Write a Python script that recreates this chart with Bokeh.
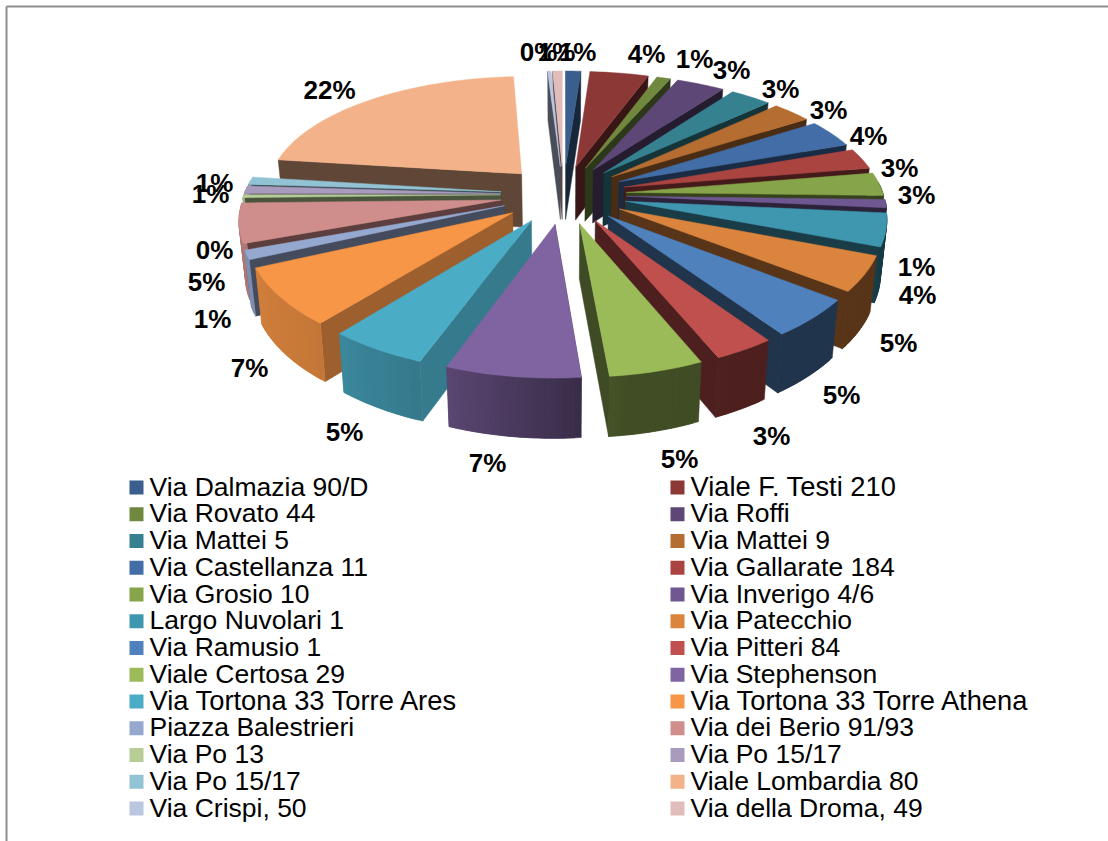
import numpy as np
from bokeh.plotting import figure
from bokeh.embed import file_html
from bokeh.resources import INLINE
from bokeh.core.properties import value

names = ["Via Dalmazia 90/D","Viale F. Testi 210","Via Rovato 44","Via Roffi","Via Mattei 5","Via Mattei 9",
         "Via Castellanza 11","Via Gallarate 184","Via Grosio 10","Via Inverigo 4/6","Largo Nuvolari 1","Via Patecchio",
         "Via Ramusio 1","Via Pitteri 84","Viale Certosa 29","Via Stephenson","Via Tortona 33 Torre Ares","Via Tortona 33 Torre Athena",
         "Piazza Balestrieri","Via dei Berio 91/93","Via Po 13","Via Po 15/17","Via Po 15/17","Viale Lombardia 80",
         "Via Crispi, 50","Via della Droma, 49"]
shares = [1.1,4.2,1.0,3.49,3.0,2.9,3.8,2.8,3.1,1.1,4.3,4.5,4.85,3.25,5.1,7.1,5.2,7.35,1.2,5.2,0.4,1.0,1.0,22.0,0.25,0.7]
labels = ["1%","4%","1%","3%","3%","3%","4%","3%","3%","1%","4%","5%","5%","3%","5%","7%","5%","7%","1%","5%","0%","1%","1%","22%","0%","1%"]
colors = ["#3A5F8E","#8C3836","#71893F","#5C4776","#35818F","#B66D31","#426DA7","#A94441","#86A44A","#6F5792","#3F97AF","#DB843D",
          "#4F81BD","#C0504D","#9BBB59","#8064A2","#4BACC6","#F79646","#95A8CF","#CF8D8B","#B7CD96","#A99BBD","#92C3D4","#F4B28A",
          "#BBC6E0","#E0BCBB"]

# layout of the data labels (centres, page pixels)
label_x = [577,646,694,731,780,828,868,899,916,916,917,898,841,771,679,487,344,249,212,206,214,210,214,329,538,556]
label_y = [51,53,58,69,88,109,135,167,194,266,294,342,394,435,458,462,431,367,318,281,249,193,182,89,51,51]

# projection of the exploded disc
CX, CY, RY, KY, DEPTH, EXPL, CONV = 563, 194, 118.7, 0.158, 54, 0.245, 0.98
RX_R, KX_R, RX_L, KX_L = 257, 0.12, 256.7, 0.14

def proj(X, Y):
    s = 1 / (1 + KY * Y)
    X = np.asarray(X, float)
    xp = np.where(X >= 0, RX_R * X / (1 + KX_R * Y), RX_L * X / (1 + KX_L * Y))
    return CX + xp, CY - RY * Y * s, DEPTH * np.sqrt(s)

def rgb(c): return np.array([int(c[i:i+2], 16) for i in (1, 3, 5)], float)
def shade(c, f): return "#%02x%02x%02x" % tuple(int(round(v)) for v in np.clip(rgb(c) * f, 0, 255))
def drop(px, py, d): return CX + (px - CX) * CONV, py + d

outer_a = [0, 150, 172, 182, 200, 222, 250, 360]
outer_f = [.40, .40, .42, .52, .70, .80, .85, .85]
edge_a = [0, 190, 202, 220, 245, 280, 360]
edge_f = [.40, .40, .76, .63, .45, .39, .39]

p = figure(width=1108, height=841, x_range=(0, 1108), y_range=(841, 0), output_backend="svg", toolbar_location=None,
           min_border=0, outline_line_color=None, background_fill_color="white", border_fill_color="white")
p.axis.visible = False
p.grid.visible = False
p.styles = {"position": "absolute", "left": "0px", "top": "0px"}

# frame
p.line([6, 6], [6, 841], line_color="#8E8E8E", line_width=2)
p.line([6, 1108], [6, 6], line_color="#8E8E8E", line_width=2)

frac = np.array(shares) / sum(shares) * 360
starts = np.concatenate([[0], np.cumsum(frac)[:-1]])
mids = starts + frac / 2
order = np.argsort(-np.cos(np.radians(mids)))

xs, ys, fc = [], [], []
for i in order:
    a0, a1, m = starts[i], starts[i] + frac[i], mids[i]
    ex, ey = EXPL * np.sin(np.radians(m)), EXPL * np.cos(np.radians(m))
    tx, ty, td = proj(ex, ey)
    tx = float(tx)
    ang = np.linspace(a0, a1, max(3, int(frac[i] / 1.2) + 2))
    ox, oy, od = proj(ex + np.sin(np.radians(ang)), ey + np.cos(np.radians(ang)))
    bx, by = drop(ox, oy, od)
    tbx, tby = drop(tx, ty, td)
    # the radial wall that faces the viewer
    j, f = (0, np.interp(a0, edge_a, edge_f)) if m > 180 else (-1, .40)
    xs.append([tx, ox[j], bx[j], tbx]); ys.append([ty, oy[j], by[j], tby]); fc.append(shade(colors[i], f))
    # outer wall, only where it faces the viewer, each strip overlapping the next to hide seams
    for j in range(len(ang) - 1):
        amid = (ang[j] + ang[j + 1]) / 2
        if not 85 < amid < 275:
            continue
        f = np.interp(amid, outer_a, outer_f)
        k = min(j + 2, len(ang) - 1)
        xs.append(list(ox[j:k + 1]) + list(bx[j:k + 1][::-1])); ys.append(list(oy[j:k + 1]) + list(by[j:k + 1][::-1]))
        fc.append(shade(colors[i], f))
    # top
    xs.append([tx] + list(ox)); ys.append([ty] + list(oy)); fc.append(colors[i])

p.patches(xs, ys, fill_color=fc, line_color=fc, line_width=0.5)

p.text(label_x, label_y, text=labels, text_font=value("Liberation Sans"), text_font_style="bold", text_font_size="26px",
       text_color="black", text_align="center", text_baseline="middle")

# legend
rows = np.arange(len(names)) // 2
cols = np.arange(len(names)) % 2
sw_x = 129 + cols * 541
sw_y = 480 + rows * 26.75
sizes = ["27.3px" if "T" in n else "26.5px" for n in names]  # the reference sets its T's without kerning
p.quad(left=sw_x, right=sw_x + 14, top=sw_y, bottom=sw_y + 14, fill_color=colors, line_color=None)
p.text(sw_x + 20, sw_y + 6, text=names, text_font=value("Liberation Sans"), text_font_size=sizes, text_color="black",
       text_align="left", text_baseline="middle")

open("out.html", "w").write(file_html(p, INLINE))
